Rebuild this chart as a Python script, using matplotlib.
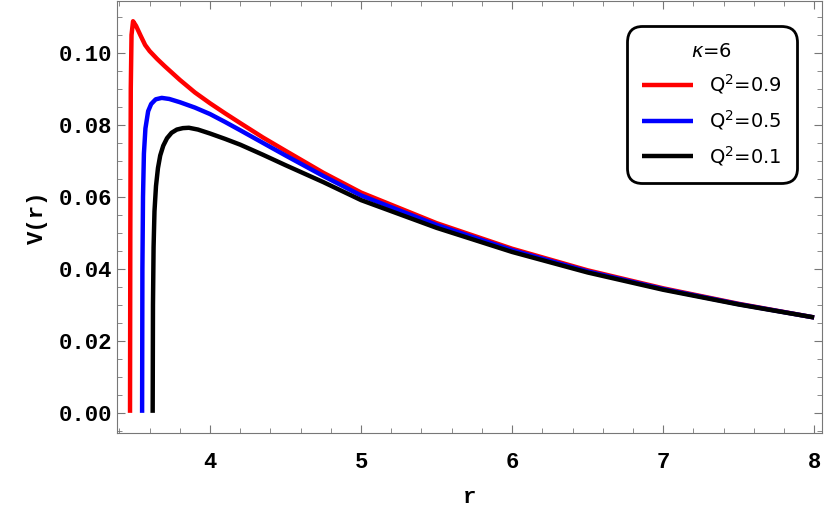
import matplotlib
matplotlib.use("Agg")
import matplotlib.pyplot as plt
from matplotlib.ticker import MultipleLocator

# V(r) curves for kappa=6
r_red = [3.47, 3.472, 3.475, 3.48, 3.49, 3.51, 3.54, 3.57, 3.6, 3.65, 3.7, 3.8, 3.9, 4.0, 4.1, 4.2, 4.35, 4.5, 4.75, 5.0, 5.5, 6.0, 6.5, 7.0, 7.5, 8.0]
v_red = [0.0, 0.05, 0.09, 0.105, 0.1088, 0.1075, 0.1048, 0.1022, 0.1005, 0.0983, 0.0963, 0.0925, 0.089, 0.086, 0.0832, 0.0805, 0.0765, 0.0728, 0.0667, 0.0612, 0.0527, 0.0456, 0.0396, 0.0346, 0.0303, 0.0265]
r_blue = [3.55, 3.552, 3.556, 3.562, 3.572, 3.59, 3.61, 3.64, 3.68, 3.73, 3.8, 3.9, 4.0, 4.1, 4.2, 4.35, 4.5, 4.75, 5.0, 5.5, 6.0, 6.5, 7.0, 7.5, 8.0]
v_blue = [0.0, 0.04, 0.06, 0.072, 0.079, 0.0838, 0.0858, 0.0871, 0.0875, 0.0872, 0.0863, 0.0848, 0.083, 0.0808, 0.0785, 0.075, 0.0715, 0.0658, 0.0604, 0.0522, 0.0452, 0.0393, 0.0344, 0.0302, 0.0265]
r_black = [3.62, 3.622, 3.626, 3.632, 3.642, 3.655, 3.67, 3.69, 3.715, 3.745, 3.78, 3.82, 3.86, 3.92, 4.0, 4.1, 4.2, 4.35, 4.5, 4.75, 5.0, 5.5, 6.0, 6.5, 7.0, 7.5, 8.0]
v_black = [0.0, 0.03, 0.046, 0.056, 0.063, 0.068, 0.0715, 0.0742, 0.0763, 0.0778, 0.0787, 0.0791, 0.0792, 0.0787, 0.0776, 0.0761, 0.0745, 0.0717, 0.0688, 0.0641, 0.0591, 0.0514, 0.0447, 0.039, 0.0342, 0.0301, 0.0265]
labels = ["Q$^2$=0.9", "Q$^2$=0.5", "Q$^2$=0.1"]
x_ticks = [4, 5, 6, 7, 8]
y_ticks = [0.00, 0.02, 0.04, 0.06, 0.08, 0.10]

fig = plt.figure(figsize=(8.3, 5.3), dpi=100)
ax = fig.add_axes([0.141, 0.183, 0.849, 0.815])

ax.plot(r_red, v_red, color="#ff0000", lw=3.2, label=labels[0], solid_capstyle="butt")
ax.plot(r_blue, v_blue, color="#0000ff", lw=3.2, label=labels[1], solid_capstyle="butt")
ax.plot(r_black, v_black, color="black", lw=3.2, label=labels[2], solid_capstyle="butt")

ax.set_xlim(3.384, 8.05)
ax.set_ylim(-0.0056, 0.1144)
ax.set_xticks(x_ticks)
ax.set_yticks(y_ticks)
ax.set_yticklabels([f"{v:.2f}" for v in y_ticks])
ax.xaxis.set_minor_locator(MultipleLocator(0.2))
ax.yaxis.set_minor_locator(MultipleLocator(0.005))
ax.tick_params(which="both", direction="in", top=True, right=True, color="#777777")
ax.tick_params(which="major", length=6)
ax.tick_params(which="minor", length=3.5)
for sp in ax.spines.values():
    sp.set_color("#777777")

mono = {"family": "Liberation Mono", "weight": "bold", "size": 16}
for t in ax.get_xticklabels() + ax.get_yticklabels():
    t.set_fontproperties(matplotlib.font_manager.FontProperties(**mono))
ax.tick_params(axis="x", pad=14)
ax.set_xlabel("r", fontdict=mono, labelpad=10)
ax.set_ylabel("V(r)", fontdict=mono, labelpad=8)

leg = ax.legend(title="$\\kappa$=6", loc="upper right", bbox_to_anchor=(0.973, 0.955),
                fontsize=14, title_fontsize=14, frameon=True, fancybox=True, framealpha=1,
                handlelength=2.6, borderpad=0.6, labelspacing=0.6)
leg.get_frame().set_edgecolor("black")
leg.get_frame().set_linewidth(2)
leg.get_frame().set_boxstyle("round,pad=0.2,rounding_size=0.8")

fig.savefig("out.png", dpi=100)
